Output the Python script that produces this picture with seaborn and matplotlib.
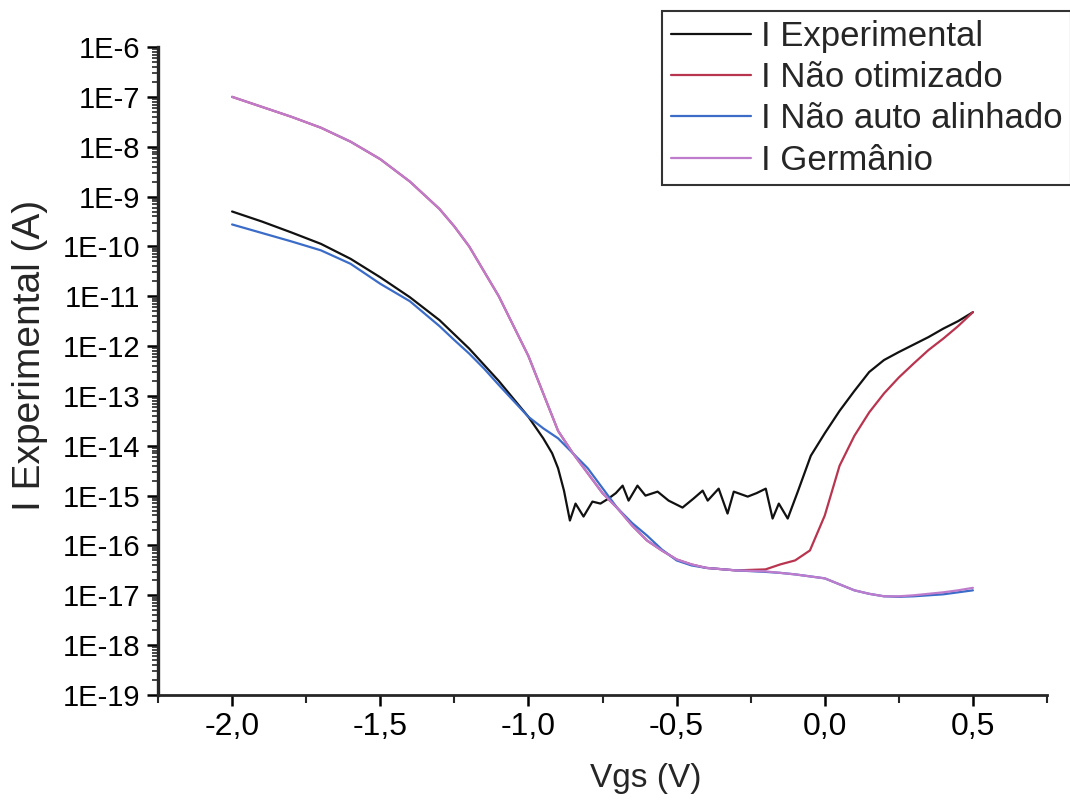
import numpy as np
import pandas as pd
import matplotlib
matplotlib.use("Agg")
import matplotlib.pyplot as plt
import matplotlib.ticker as mticker
import seaborn as sns

# ---- data (Vgs in V, current as log10(I/A)) ----
v_exp = [-2.0, -1.9, -1.8, -1.7, -1.6, -1.5, -1.4, -1.3, -1.2, -1.1, -1.0, -0.95, -0.92, -0.9, -0.88,
         -0.86, -0.841, -0.814, -0.784, -0.757, -0.730, -0.705, -0.682, -0.662, -0.632, -0.605,
         -0.564, -0.527, -0.480, -0.443, -0.412, -0.395, -0.358, -0.328, -0.307, -0.260, -0.230,
         -0.199, -0.176, -0.155, -0.125, -0.091, -0.047, 0.0, 0.05, 0.1, 0.15, 0.2, 0.25, 0.3,
         0.35, 0.4, 0.45, 0.5]
log_exp = [-9.3, -9.5, -9.72, -9.95, -10.25, -10.62, -11.02, -11.48, -12.05, -12.7, -13.42, -13.85,
           -14.15, -14.45, -14.9, -15.5, -15.16, -15.42, -15.12, -15.16, -15.06, -14.95, -14.8,
           -15.1, -14.8, -15.0, -14.92, -15.1, -15.24, -15.06, -14.9, -15.1, -14.86, -15.36,
           -14.92, -15.02, -14.95, -14.86, -15.46, -15.16, -15.46, -14.92, -14.2, -13.75, -13.3,
           -12.9, -12.52, -12.28, -12.12, -11.97, -11.82, -11.65, -11.5, -11.32]

v_sim = [-2.0, -1.9, -1.8, -1.7, -1.6, -1.5, -1.4, -1.3, -1.25, -1.2, -1.15, -1.1, -1.05, -1.0,
         -0.95, -0.9, -0.85, -0.8, -0.75, -0.7, -0.65, -0.6, -0.55, -0.5, -0.45, -0.4, -0.3, -0.2,
         -0.15, -0.1, -0.05, 0.0, 0.05, 0.1, 0.15, 0.2, 0.25, 0.3, 0.35, 0.4, 0.45, 0.5]
log_nao_otimizado = [-7.0, -7.2, -7.4, -7.62, -7.9, -8.25, -8.7, -9.25, -9.6, -10.0, -10.5, -11.0,
                     -11.6, -12.2, -12.95, -13.7, -14.15, -14.55, -14.95, -15.25, -15.6, -15.9,
                     -16.1, -16.28, -16.38, -16.45, -16.5, -16.48, -16.38, -16.3, -16.1, -15.4,
                     -14.4, -13.8, -13.33, -12.95, -12.63, -12.35, -12.08, -11.85, -11.6, -11.32]
log_nao_auto = [-9.56, -9.73, -9.9, -10.08, -10.35, -10.75, -11.1, -11.6, -11.88, -12.15, -12.45,
                -12.78, -13.1, -13.42, -13.65, -13.85, -14.15, -14.45, -14.85, -15.25, -15.55,
                -15.8, -16.08, -16.3, -16.4, -16.45, -16.5, -16.53, -16.55, -16.58, -16.62,
                -16.66, -16.78, -16.9, -16.97, -17.02, -17.03, -17.02, -17.0, -16.98, -16.94,
                -16.9]
log_germanio = [-7.0, -7.2, -7.4, -7.62, -7.9, -8.25, -8.7, -9.25, -9.6, -10.0, -10.5, -11.0,
                -11.6, -12.2, -12.95, -13.7, -14.15, -14.55, -14.95, -15.25, -15.6, -15.9, -16.1,
                -16.28, -16.38, -16.45, -16.5, -16.52, -16.55, -16.58, -16.62, -16.66, -16.78,
                -16.9, -16.97, -17.02, -17.02, -17.0, -16.97, -16.94, -16.9, -16.85]

labels = ["I Experimental", "I Não otimizado", "I Não auto alinhado", "I Germânio"]
colors = ["#111111", "#b8344f", "#3a6cc8", "#c07ccc"]

frames = [
    pd.DataFrame({"Vgs": v_exp, "I": np.power(10.0, log_exp), "serie": labels[0]}),
    pd.DataFrame({"Vgs": v_sim, "I": np.power(10.0, log_nao_otimizado), "serie": labels[1]}),
    pd.DataFrame({"Vgs": v_sim, "I": np.power(10.0, log_nao_auto), "serie": labels[2]}),
    pd.DataFrame({"Vgs": v_sim, "I": np.power(10.0, log_germanio), "serie": labels[3]}),
]
df = pd.concat(frames, ignore_index=True)

sns.set_style("ticks")
plt.rcParams["font.family"] = ["Liberation Sans", "DejaVu Sans"]

fig = plt.figure(figsize=(10.70, 8.01), dpi=100)
ax = fig.add_axes([158 / 1070, (801 - 695) / 801, (1047 - 158) / 1070, (695 - 47) / 801])

sns.lineplot(data=df, x="Vgs", y="I", hue="serie", hue_order=labels,
             palette=dict(zip(labels, colors)), estimator=None, sort=False,
             linewidth=1.6, ax=ax, legend=False)

ax.set_yscale("log")
ax.set_xlim(-2.25, 0.75)
ax.set_ylim(1e-19, 1e-6)

ax.xaxis.set_major_locator(mticker.MultipleLocator(0.5))
ax.xaxis.set_minor_locator(mticker.MultipleLocator(0.25))
ax.xaxis.set_major_formatter(mticker.FuncFormatter(lambda v, p: f"{v:.1f}".replace(".", ",").replace("-0,0", "0,0")))
ax.yaxis.set_major_locator(mticker.LogLocator(base=10, numticks=20))
ax.yaxis.set_minor_locator(mticker.LogLocator(base=10, subs=np.arange(2, 10), numticks=20))
ax.yaxis.set_major_formatter(mticker.FuncFormatter(lambda v, p: f"1E{int(round(np.log10(v)))}"))
ax.yaxis.set_minor_formatter(mticker.NullFormatter())

for s in ["top", "right"]:
    ax.spines[s].set_visible(False)
ax.spines["left"].set_linewidth(2.4)
ax.spines["bottom"].set_linewidth(2.0)

ax.tick_params(axis="both", which="major", direction="out", length=8, width=1.8, colors="black")
ax.tick_params(axis="y", which="major", labelsize=21, pad=5)
ax.tick_params(axis="x", which="major", labelsize=23, pad=4)
ax.tick_params(axis="y", which="minor", direction="out", length=4, width=1.2)
ax.tick_params(axis="x", which="minor", direction="out", length=6, width=1.5)

ax.set_xlabel("Vgs (V)", fontsize=24)
ax.set_ylabel("I Experimental (A)", fontsize=28)
ax.xaxis.set_label_coords((646 - 158) / 889, -(778 - 695) / 648)
ax.yaxis.set_label_coords(-(158 - 30) / 889, (695 - 355) / 648)
ax.xaxis.label.set_va("center")
ax.yaxis.label.set_va("center")

handles = [matplotlib.lines.Line2D([], [], color=c, lw=1.6) for c in colors]
leg = ax.legend(handles, labels, loc="upper left", bbox_to_anchor=(662 / 1070, 1 - 11 / 801),
                bbox_transform=fig.transFigure, fontsize=25, frameon=True, fancybox=False,
                edgecolor="black", handlelength=2.3, handletextpad=0.3, labelspacing=0.24,
                borderpad=0.25, borderaxespad=0.0)
leg.get_frame().set_linewidth(1.5)

fig.savefig("out.png", dpi=100, facecolor="white")
